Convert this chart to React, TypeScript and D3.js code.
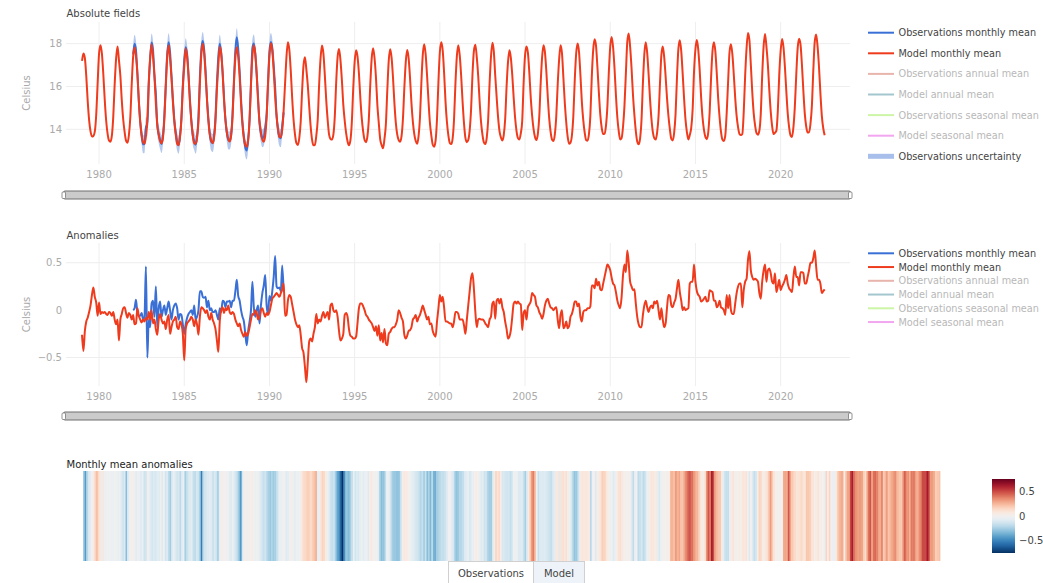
import React from "react";
import * as d3 from "d3";

// ---------------- DATA ----------------
const FIRST_YEAR = 1979;
// Model monthly mean anomalies (°C), one row per year Jan..Dec, 1979 .. 2022 (ends Aug 2022)
const modelAnomaly: number[][] = [
  [-0.26, -0.43, -0.22, -0.12, -0.08, -0.02, 0.05, 0.16, 0.24, 0.14, 0.08, -0.06],
  [0.08, -0.04, -0.02, -0.03, -0.02, -0.04, -0.05, -0.02, -0.03, -0.06, -0.02, -0.1],
  [-0.15, -0.1, -0.32, -0.1, -0.04, 0.02, 0.03, -0.03, -0.08, -0.03, -0.05, -0.1],
  [-0.05, -0.15, -0.14, 0.02, -0.06, -0.1, -0.13, -0.1, -0.12, -0.08, -0.1, -0.02],
  [-0.1, 0.0, -0.14, -0.1, -0.2, -0.26, -0.1, -0.04, -0.1, -0.14, -0.12, -0.2],
  [-0.1, -0.05, -0.25, -0.18, -0.12, -0.1, -0.07, -0.18, -0.2, -0.12, -0.15, -0.25],
  [-0.53, -0.2, -0.14, -0.12, -0.1, -0.07, -0.1, -0.17, -0.1, -0.15, -0.26, -0.07],
  [0.03, 0.02, 0.0, -0.03, 0.0, -0.07, -0.1, -0.03, -0.1, -0.14, -0.2, -0.32],
  [-0.44, -0.12, 0.0, 0.03, -0.03, 0.02, 0.0, 0.05, -0.02, -0.04, -0.02, -0.04],
  [-0.1, -0.14, -0.17, -0.14, -0.21, -0.25, -0.28, -0.23, -0.27, -0.25, -0.18, -0.1],
  [-0.04, -0.05, 0.0, -0.03, -0.1, -0.07, 0.0, 0.02, -0.03, -0.07, -0.03, -0.05],
  [-0.02, 0.05, 0.12, 0.14, 0.16, 0.18, 0.16, 0.14, 0.18, 0.22, 0.28, -0.06],
  [-0.05, 0.1, 0.16, 0.14, 0.06, -0.02, -0.1, -0.15, -0.18, -0.16, -0.26, -0.4],
  [-0.45, -0.6, -0.76, -0.55, -0.33, -0.3, -0.33, -0.25, -0.18, -0.04, -0.14, -0.1],
  [-0.12, -0.06, -0.02, -0.08, -0.05, -0.02, -0.1, 0.05, 0.07, 0.0, -0.02, 0.0],
  [-0.07, -0.22, -0.32, -0.3, -0.25, -0.05, -0.03, -0.07, -0.2, -0.27, -0.28, -0.3],
  [-0.3, -0.28, -0.14, 0.02, 0.07, 0.07, 0.04, 0.0, -0.05, -0.07, -0.1, -0.12],
  [-0.14, -0.18, -0.22, -0.17, -0.27, -0.16, -0.32, -0.24, -0.34, -0.2, -0.35, -0.37],
  [-0.25, -0.23, -0.2, -0.18, -0.18, -0.15, -0.1, 0.0, -0.03, -0.08, -0.12, -0.26],
  [-0.3, -0.27, -0.22, -0.21, -0.18, -0.1, -0.08, -0.05, -0.12, -0.08, -0.05, 0.0],
  [0.05, 0.0, -0.05, -0.1, -0.07, -0.15, -0.14, -0.22, -0.26, -0.28, -0.12, 0.02],
  [0.16, 0.09, 0.14, 0.03, -0.12, -0.12, -0.13, -0.14, -0.14, -0.18, -0.12, -0.02],
  [-0.02, -0.04, -0.1, -0.1, -0.1, -0.16, -0.25, -0.1, 0.05, 0.2, 0.34, 0.39],
  [0.22, -0.02, -0.18, -0.1, -0.09, -0.1, -0.1, -0.11, -0.14, -0.16, -0.18, -0.1],
  [-0.07, 0.07, 0.09, -0.09, 0.1, 0.12, 0.07, 0.12, 0.03, -0.02, -0.12, -0.2],
  [-0.3, -0.28, -0.21, -0.07, 0.07, 0.09, 0.07, 0.09, 0.07, 0.06, -0.21, -0.03],
  [0.0, -0.1, 0.03, 0.06, 0.09, 0.18, 0.16, 0.14, 0.05, 0.03, -0.02, -0.05],
  [-0.09, -0.04, 0.05, 0.1, 0.12, 0.07, 0.03, 0.02, 0.0, 0.02, 0.03, -0.1],
  [-0.19, -0.05, 0.0, -0.19, -0.17, -0.12, -0.19, -0.17, -0.07, -0.04, 0.02, 0.09],
  [0.09, 0.04, 0.07, -0.07, -0.12, -0.02, 0.0, 0.0, 0.02, 0.02, 0.04, 0.26],
  [0.26, 0.23, 0.33, 0.26, 0.3, 0.22, 0.21, 0.28, 0.35, 0.42, 0.48, 0.46],
  [0.42, 0.34, 0.28, 0.26, 0.19, 0.1, 0.05, 0.02, 0.14, 0.37, 0.48, 0.4],
  [0.63, 0.5, 0.3, 0.25, 0.21, 0.22, 0.07, -0.07, -0.15, -0.18, -0.18, -0.05],
  [0.05, 0.1, 0.03, -0.02, 0.03, 0.05, 0.02, 0.09, 0.07, 0.1, 0.0, -0.1],
  [0.02, -0.1, -0.18, -0.14, 0.03, 0.16, 0.15, 0.05, 0.03, 0.08, 0.12, 0.23],
  [0.32, 0.19, 0.1, 0.0, 0.03, 0.0, 0.01, 0.02, 0.28, 0.3, 0.3, 0.48],
  [0.3, 0.2, 0.16, 0.14, 0.09, 0.1, 0.12, 0.14, 0.09, 0.1, 0.21, 0.2],
  [0.19, 0.1, 0.1, 0.03, 0.05, 0.1, 0.03, 0.02, 0.0, -0.05, 0.16, 0.02],
  [0.16, 0.0, -0.04, -0.04, 0.07, 0.18, 0.25, 0.28, 0.28, 0.03, 0.21, 0.3],
  [0.33, 0.53, 0.62, 0.42, 0.35, 0.32, 0.33, 0.32, 0.3, 0.18, 0.12, 0.3],
  [0.42, 0.48, 0.3, 0.42, 0.44, 0.39, 0.3, 0.28, 0.39, 0.19, 0.25, 0.32],
  [0.21, 0.25, 0.28, 0.32, 0.37, 0.28, 0.23, 0.21, 0.19, 0.35, 0.46, 0.35],
  [0.35, 0.26, 0.4, 0.4, 0.39, 0.28, 0.28, 0.35, 0.42, 0.5, 0.5, 0.55],
  [0.63, 0.46, 0.32, 0.32, 0.28, 0.18, 0.2, 0.22],
];

const OBS_FIRST_YEAR = 1982;
// Observations monthly mean anomalies (°C), Jan 1982 .. Nov 1990
const obsAnomaly: number[][] = [
  [0.0, 0.02, 0.11, -0.03, -0.06, -0.06, -0.03, -0.1, -0.07, 0.46, -0.5, -0.1],
  [-0.18, 0.07, 0.1, -0.07, 0.25, -0.18, 0.02, 0.09, -0.07, 0.0, 0.05, -0.05],
  [0.02, 0.09, 0.0, -0.1, 0.0, 0.05, 0.07, 0.02, -0.1, -0.04, -0.05, -0.15],
  [-0.25, -0.15, -0.08, -0.04, -0.02, 0.0, -0.05, 0.05, -0.1, -0.07, 0.0, 0.2],
  [0.2, 0.14, 0.13, 0.14, 0.03, 0.1, 0.0, 0.02, -0.02, -0.02, 0.0, -0.05],
  [-0.1, 0.02, -0.02, 0.1, 0.09, 0.03, 0.09, 0.09, 0.1, 0.03, 0.1, 0.1],
  [0.2, 0.32, 0.15, 0.1, 0.0, -0.07, -0.12, -0.25, -0.37, -0.22, -0.12, 0.0],
  [0.3, 0.03, -0.07, 0.0, 0.05, -0.14, 0.05, 0.18, 0.26, 0.37, 0.05, -0.04],
  [0.15, 0.1, 0.2, 0.35, 0.57, 0.25, 0.23, 0.24, 0.2, 0.47, 0.19],
];

// Monthly climatologies (°C, Jan..Dec)
const modelClimatology = [17.45, 17.97, 17.55, 16.6, 15.4, 14.45, 13.85, 13.5, 13.45, 13.75, 14.6, 16.2];
const obsClimatology = [17.5, 17.98, 17.6, 16.6, 15.4, 14.4, 13.75, 13.4, 13.38, 13.7, 14.6, 16.2];
const obsUncertainty = 0.42; // half width of the observations uncertainty band

const yearTicks = [1980, 1985, 1990, 1995, 2000, 2005, 2010, 2015, 2020];
const absTicks = [14, 16, 18];
const anomTicks = [-0.5, 0, 0.5];
const colorbarTicks = [-0.5, 0, 0.5];

const legendAbs = [
  { label: "Observations monthly mean", color: "#3a70d6", text: "#444", width: 2 },
  { label: "Model monthly mean", color: "#ef3b1d", text: "#444", width: 2 },
  { label: "Observations annual mean", color: "#e8b5ac", text: "#b8b8b8", width: 2 },
  { label: "Model annual mean", color: "#a4c6ce", text: "#b8b8b8", width: 2 },
  { label: "Observations seasonal mean", color: "#cdf5a6", text: "#b8b8b8", width: 2 },
  { label: "Model seasonal mean", color: "#f1a6ef", text: "#b8b8b8", width: 2 },
  { label: "Observations uncertainty", color: "#a8bfeb", text: "#444", width: 5 },
];
const legendAnom = legendAbs.slice(0, 6);
const buttonLabels = ["Observations", "Model"];

// ---------------- helpers ----------------
type Pt = { t: number; v: number; m: number };
const toSeries = (rows: number[][], y0: number): Pt[] =>
  rows.flatMap((row, yi) => row.map((v, m) => ({ t: y0 + yi + m / 12, v, m })));

const modelAnom = toSeries(modelAnomaly, FIRST_YEAR);
const obsAnom = toSeries(obsAnomaly, OBS_FIRST_YEAR);
const modelAbs = modelAnom.map((d) => ({ ...d, v: modelClimatology[d.m] + d.v }));
const obsAbs = obsAnom.map((d) => ({ ...d, v: obsClimatology[d.m] + d.v }));

const FONT = '"DejaVu Sans", Verdana, sans-serif';
const fmt = (v: number) => (v < 0 ? "\u2212" + Math.abs(v) : String(v));

export default function App() {
  const x = d3.scaleLinear().domain([1978.06, 2024.07]).range([66, 850]);
  const yAbs = d3.scaleLinear().domain([12.38, 19.01]).range([164, 22]);
  const yAnom = d3.scaleLinear().domain([-0.8, 0.708]).range([386, 243]);

  const lineAbs = d3.line<Pt>().x((d) => x(d.t)).y((d) => yAbs(d.v)).curve(d3.curveMonotoneX);
  const lineAnom = d3.line<Pt>().x((d) => x(d.t)).y((d) => yAnom(d.v)).curve(d3.curveMonotoneX);
  const band = d3
    .area<Pt>()
    .x((d) => x(d.t))
    .y0((d) => yAbs(d.v - obsUncertainty))
    .y1((d) => yAbs(d.v + obsUncertainty))
    .curve(d3.curveMonotoneX);

  const maxAbs = d3.max(modelAnom, (d) => Math.abs(d.v)) as number;
  const color = (v: number) => d3.interpolateRdBu(1 - (v + maxAbs) / (2 * maxAbs));
  const xHeat = d3
    .scaleBand<number>()
    .domain(modelAnom.map((_, i) => i))
    .range([83, 940]);
  const cbY = d3.scaleLinear().domain([-maxAbs, maxAbs]).range([553, 479]);
  const gradStops = d3.range(0, 1.0001, 0.05);

  const panel = (
    top: number,
    bottom: number,
    y: d3.ScaleLinear<number, number>,
    ticks: number[],
    gridTicks: number[],
    xLabelY: number
  ) => (
    <g>
      {gridTicks.map((t) => (
        <line key={"h" + t} x1={66} x2={850} y1={y(t)} y2={y(t)} stroke="#eee" strokeWidth={1} />
      ))}
      {yearTicks.map((t) => (
        <line key={"v" + t} x1={x(t)} x2={x(t)} y1={top} y2={bottom} stroke="#eee" strokeWidth={1} />
      ))}
      {ticks.map((t) => (
        <text key={"yl" + t} x={62} y={y(t) + 3.5} textAnchor="end" fontSize={10} fill="#aaa">
          {fmt(t)}
        </text>
      ))}
      {yearTicks.map((t) => (
        <text key={"xl" + t} x={x(t)} y={xLabelY} textAnchor="middle" fontSize={10} fill="#aaa">
          {t}
        </text>
      ))}
      <text
        transform={`translate(30,${(top + bottom) / 2}) rotate(-90)`}
        textAnchor="middle"
        fontSize={10}
        fill="#aaa"
      >
        Celsius
      </text>
    </g>
  );

  const slider = (yTop: number) => (
    <g>
      <rect x={63.5} y={yTop + 0.5} width={787} height={8} rx={1.5} fill="#cbcbcb" stroke="#6e6e6e" strokeWidth={1} />
      <rect x={62} y={yTop + 1.5} width={3.5} height={6.5} rx={1} fill="#fff" stroke="#777" strokeWidth={0.8} />
      <rect x={848.5} y={yTop + 1.5} width={3.5} height={6.5} rx={1} fill="#fff" stroke="#777" strokeWidth={0.8} />
    </g>
  );

  const legend = (items: typeof legendAbs, y0: number, dy: number) => (
    <g>
      {items.map((it, i) => (
        <g key={it.label} transform={`translate(0,${y0 + i * dy})`}>
          <line x1={868} x2={894} y1={0} y2={0} stroke={it.color} strokeWidth={it.width} />
          <text x={898.5} y={3.5} fontSize={9.7} fill={it.text}>
            {it.label}
          </text>
        </g>
      ))}
    </g>
  );

  return (
    <svg
      width={1043}
      height={583}
      style={{ position: "absolute", left: 0, top: 0, fontFamily: FONT, background: "#fff" }}
    >
      <defs>
        <linearGradient id="cb" x1="0" y1="1" x2="0" y2="0">
          {gradStops.map((t) => (
            <stop key={t} offset={t} stopColor={d3.interpolateRdBu(1 - t)} />
          ))}
        </linearGradient>
      </defs>

      {/* Panel 1: absolute fields */}
      <text x={66.5} y={17} fontSize={10} fill="#444">Absolute fields</text>
      {panel(22, 164, yAbs, absTicks, absTicks, 177.5)}
      <path d={band(obsAbs) || ""} fill="#a8bfeb" fillOpacity={0.85} stroke="none" />
      <path d={lineAbs(obsAbs) || ""} fill="none" stroke="#3a70d6" strokeWidth={2} />
      <path d={lineAbs(modelAbs) || ""} fill="none" stroke="#ef3b1d" strokeWidth={2} />
      {slider(190.5)}
      {legend(legendAbs, 32.7, 20.6)}

      {/* Panel 2: anomalies */}
      <text x={66.5} y={238.5} fontSize={10} fill="#444">Anomalies</text>
      {panel(243, 386, yAnom, anomTicks, [-0.5, 0.5], 400)}
      <path d={lineAnom(obsAnom) || ""} fill="none" stroke="#3a70d6" strokeWidth={2} />
      <path d={lineAnom(modelAnom) || ""} fill="none" stroke="#ef3b1d" strokeWidth={2} />
      {slider(411.5)}
      {legend(legendAnom, 253.3, 13.75)}

      {/* Panel 3: heatmap stripes */}
      <text x={66.5} y={467.5} fontSize={10} fill="#222">Monthly mean anomalies</text>
      {modelAnom.map((d, i) => (
        <rect
          key={i}
          x={xHeat(i)}
          y={471}
          width={xHeat.bandwidth() + 0.4}
          height={90}
          fill={color(d.v)}
        />
      ))}
      <rect x={992} y={cbY(maxAbs)} width={23} height={cbY(-maxAbs) - cbY(maxAbs)} fill="url(#cb)" />
      {colorbarTicks.map((t) => (
        <text key={t} x={1019} y={cbY(t) + 3.5} fontSize={10} fill="#444">
          {fmt(t)}
        </text>
      ))}

      {/* Buttons */}
      <rect x={448.5} y={561.5} width={85} height={26} fill="#fff" stroke="#d0d0d0" />
      <rect x={533.5} y={561.5} width={51} height={26} fill="#eef3f9" stroke="#d0d0d0" />
      <text x={491} y={577} textAnchor="middle" fontSize={10} fill="#444">{buttonLabels[0]}</text>
      <text x={559} y={577} textAnchor="middle" fontSize={10} fill="#444">{buttonLabels[1]}</text>
    </svg>
  );
}
